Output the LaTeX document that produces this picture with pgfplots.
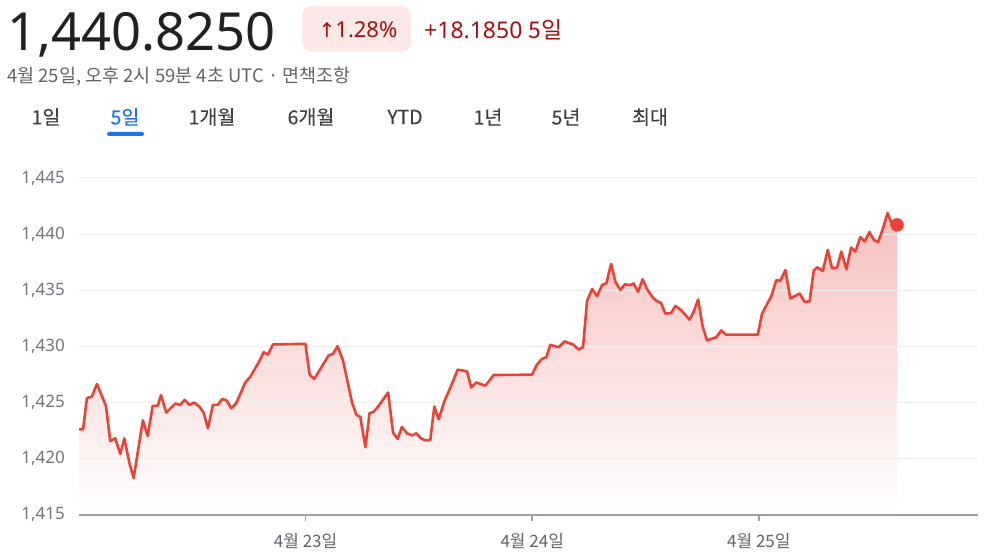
\documentclass[border=0pt]{standalone}
\usepackage{pgfplots}
\pgfplotsset{compat=1.18}
\usepackage{pgfplotstable}
\usepackage{fontspec}
\setmainfont{Noto Sans}
\newfontfamily\kr{Noto Sans CJK KR}
\newfontfamily\krm[FakeBold=0.4]{Noto Sans CJK KR}
\newfontfamily\dv{DejaVu Sans}
\definecolor{lnred}{RGB}{234,67,53}
\definecolor{fillred}{RGB}{245,192,188}
\definecolor{numblack}{RGB}{32,33,36}
\definecolor{badgebg}{RGB}{252,232,230}
\definecolor{darkred}{RGB}{165,14,14}
\definecolor{subgray}{RGB}{95,99,104}
\definecolor{tabgray}{RGB}{60,64,67}
\definecolor{tabblue}{RGB}{26,115,232}
\definecolor{gridc}{RGB}{238,238,238}
\definecolor{axisc}{RGB}{154,160,166}
\definecolor{tickc}{RGB}{112,117,122}

\pgfplotstableread{
x y
0.000 1422.63
0.018 1422.63
0.035 1425.40
0.057 1425.55
0.079 1426.66
0.119 1424.71
0.138 1421.58
0.160 1421.82
0.182 1420.44
0.200 1421.82
0.223 1419.58
0.241 1418.29
0.282 1423.43
0.303 1422.03
0.325 1424.71
0.347 1424.71
0.362 1425.67
0.385 1424.11
0.425 1424.92
0.447 1424.80
0.466 1425.25
0.487 1424.80
0.509 1425.01
0.532 1424.62
0.550 1424.11
0.569 1422.72
0.591 1424.80
0.612 1424.80
0.631 1425.31
0.650 1425.22
0.672 1424.51
0.693 1424.92
0.734 1426.80
0.756 1427.31
0.793 1428.59
0.815 1429.49
0.834 1429.28
0.856 1430.18
0.999 1430.24
1.018 1427.49
1.038 1427.11
1.065 1428.00
1.101 1429.19
1.121 1429.35
1.141 1430.03
1.165 1428.75
1.205 1425.01
1.224 1423.91
1.241 1423.75
1.264 1421.04
1.282 1424.06
1.300 1424.18
1.322 1424.71
1.364 1425.90
1.386 1422.32
1.406 1421.78
1.425 1422.83
1.447 1422.27
1.470 1422.09
1.489 1422.27
1.506 1421.87
1.528 1421.64
1.550 1421.67
1.568 1424.65
1.587 1423.52
1.613 1425.16
1.639 1426.35
1.671 1427.94
1.712 1427.79
1.731 1426.35
1.753 1426.80
1.793 1426.51
1.830 1427.46
1.999 1427.49
2.021 1428.39
2.043 1428.90
2.062 1429.04
2.080 1430.15
2.117 1429.94
2.143 1430.45
2.180 1430.18
2.205 1429.73
2.224 1429.94
2.242 1434.06
2.264 1435.11
2.286 1434.48
2.308 1435.47
2.327 1435.62
2.348 1437.35
2.367 1435.76
2.389 1435.02
2.408 1435.53
2.433 1435.47
2.447 1435.62
2.467 1434.87
2.487 1435.98
2.509 1435.02
2.533 1434.33
2.551 1434.03
2.568 1433.88
2.587 1432.93
2.613 1432.98
2.632 1433.61
2.657 1433.23
2.694 1432.39
2.712 1433.07
2.732 1434.18
2.752 1431.79
2.771 1430.54
2.812 1430.83
2.834 1431.43
2.855 1431.05
2.995 1431.05
3.014 1432.93
3.055 1434.48
3.077 1435.91
3.095 1435.85
3.117 1436.81
3.139 1434.27
3.180 1434.72
3.202 1433.97
3.224 1434.03
3.242 1436.75
3.257 1437.05
3.282 1436.72
3.304 1438.60
3.323 1436.96
3.345 1437.02
3.364 1438.45
3.386 1436.87
3.407 1438.81
3.426 1438.45
3.448 1439.74
3.467 1439.35
3.488 1440.19
3.507 1439.50
3.526 1439.29
3.546 1440.39
3.568 1441.89
3.588 1440.84
3.610 1440.825
}\fxdata

\begin{document}
\begin{tikzpicture}
\path (0pt,0pt) rectangle (986pt,553pt);
% header
\node[anchor=base west, inner sep=0pt, text=numblack, font=\fontsize{52.5}{52.5}\selectfont] at (7pt,502pt) {1,440.8250};
\fill[badgebg, rounded corners=10pt] (302pt,501pt) rectangle (411pt,547pt);
\node[anchor=center, inner sep=0pt, text=darkred, font=\fontsize{22}{22}\selectfont] at (358pt,523pt) {{\dv\fontsize{20}{20}\selectfont ↑}1.28\%};
\node[anchor=west, inner sep=0pt, text=darkred, font=\fontsize{23}{23}\selectfont] at (424pt,523pt) {+18.1850 {\kr 5일}};
\node[anchor=west, inner sep=0pt, text=subgray, font=\kr\fontsize{18.5}{18.5}\selectfont] at (7pt,476pt) {4월 25일, 오후 2시 59분 4초 UTC · 면책조항};
% tabs
\begin{scope}[every node/.style={anchor=center, inner sep=0pt, text=tabgray, font=\krm\fontsize{19.5}{19.5}\selectfont}]
\node at (46pt,436pt) {1일};
\node[text=tabblue] at (125pt,436pt) {5일};
\node at (212pt,436pt) {1개월};
\node at (311pt,436pt) {6개월};
\node at (405pt,436pt) {YTD};
\node at (488pt,436pt) {1년};
\node at (566pt,436pt) {5년};
\node at (650pt,436pt) {최대};
\end{scope}
\fill[tabblue, rounded corners=1.5pt] (107pt,417pt) rectangle (144pt,421pt);
\begin{axis}[
  set layers=standard,
  at={(79pt,38pt)}, anchor=south west,
  scale only axis, width=899pt, height=337pt,
  xmin=0, xmax=3.967, ymin=1415, ymax=1445,
  axis lines*=left,
  x axis line style={axisc, line width=1.3pt},
  y axis line style={draw=none},
  tick align=outside, major tick length=6pt,
  xtick={1,2,3},
  xticklabels={{4월 23일},{4월 24일},{4월 25일}},
  xtick style={axisc, line width=1.6pt},
  ytick={1415,1420,1425,1430,1435,1440,1445},
  yticklabels={{1,415},{1,420},{1,425},{1,430},{1,435},{1,440},{1,445}},
  ytick style={draw=none},
  ymajorgrids, grid style={gridc, line width=1pt},
  yticklabel style={font=\fontsize{17}{17}\selectfont, text=tickc, inner sep=0pt, anchor=east, xshift=-8pt},
  xticklabel style={font=\kr\fontsize{17}{17}\selectfont, text=subgray, inner sep=0pt, anchor=north, yshift=-12pt},
]
\addplot[on layer=axis background, draw=none, top color=fillred, bottom color=white] table[x=x,y=y] {\fxdata} \closedcycle;
\addplot[lnred, line width=2.6pt, line join=round, mark=none] table[x=x,y=y] {\fxdata};
\addplot[only marks, mark=*, mark size=6.5pt, color=lnred] coordinates {(3.610,1440.825)};
\end{axis}
\end{tikzpicture}
\end{document}
